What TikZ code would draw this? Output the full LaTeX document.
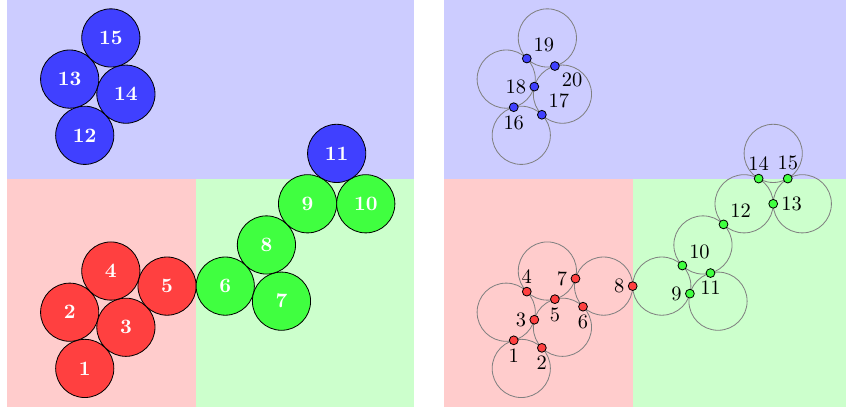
\documentclass[tikz,border=0pt]{standalone}
\usepackage{tikz}
\usetikzlibrary{calc}
\tikzset{
  zone/.style={fill=#1!20},
  disk/.style={circle,draw=black,fill=#1!75,minimum size=1cm,inner sep=0pt,
               text=white,font=\bfseries},
  ring/.style={circle,draw=gray,minimum size=1cm,inner sep=0pt},
  contact/.style={circle,draw=black,fill=#1!75,minimum size=4.3pt,inner sep=0pt},
  every label/.style={inner sep=1.5pt},
}
\begin{document}
\begin{tikzpicture}[x=0.5cm,y=0.5cm]
  \useasboundingbox (-0.24,-0.1) rectangle (28.83,14);
  \coordinate (c1) at (2.672,1.34);
  \coordinate (c2) at ($(c1)+(105:2)$);
  \coordinate (c3) at ($(c1)+(45:2)$);
  \coordinate (c4) at ($(c3)+(105:2)$);
  \coordinate (c5) at ($(c4)+(-15:2)$);
  \coordinate (c6) at ($(c5)+(2,0)$);
  \coordinate (c7) at ($(c6)+(-15:2)$);
  \coordinate (c8) at ($(c6)+(45:2)$);
  \coordinate (c9) at ($(c8)+(45:2)$);
  \coordinate (c10) at ($(c9)+(2,0)$);
  \coordinate (c11) at ($(c9)+(60:2)$);
  \coordinate (c12) at (2.672,9.35);
  \coordinate (c13) at ($(c12)+(105:2)$);
  \coordinate (c14) at ($(c12)+(45:2)$);
  \coordinate (c15) at ($(c14)+(105:2)$);
  \foreach \dx in {0,15} {
    \fill[zone=blue] (\dx,7.85) rectangle ++(14,6.15);
    \fill[zone=red] (\dx,0) rectangle ++(6.5,7.85);
    \fill[zone=green] (\dx+6.5,0) rectangle ++(7.5,7.85);
  }
  \foreach \i/\col in {1/red,2/red,3/red,4/red,5/red,6/green,7/green,8/green,
                       9/green,10/green,11/blue,12/blue,13/blue,14/blue,15/blue} {
    \node[disk=\col] (d\i) at (c\i) {\i};
    \node[ring] (r\i) at ($(c\i)+(15,0)$) {};
  }
  \foreach \n/\a/\b/\col/\ang in {1/1/2/red/-90,2/1/3/red/-90,3/2/3/red/180,
      4/2/4/red/90,5/3/4/red/-90,6/3/5/red/-90,7/4/5/red/180,8/5/6/red/180,
      9/6/7/green/180,10/6/8/green/45,11/7/8/green/-90,12/8/9/green/45,
      13/9/10/green/0,14/9/11/green/90,15/10/11/green/90,
      16/12/13/blue/-90,17/12/14/blue/45,18/13/14/blue/180,
      19/13/15/blue/45,20/14/15/blue/-45}
    \node[contact=\col,label=\ang:\n] (p\n) at ($(r\a)!0.5!(r\b)$) {};
\end{tikzpicture}
\end{document}
